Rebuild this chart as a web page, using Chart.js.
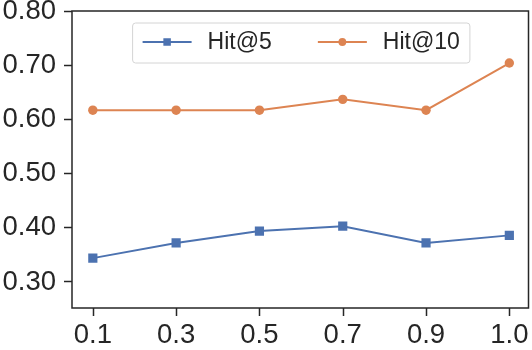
<!DOCTYPE html>
<html>
<head>
<meta charset="utf-8">
<script src="https://cdn.jsdelivr.net/npm/chart.js@4/dist/chart.umd.min.js"></script>
<style>
  html, body { margin: 0; padding: 0; background: #ffffff; overflow: hidden; }
  #wrap { width: 532px; height: 350px; overflow: hidden; }
  #c { display: block; }
</style>
</head>
<body>
<div id="wrap"><canvas id="c" width="535" height="350"></canvas></div>
<script>
const xLabels = ['0.1', '0.3', '0.5', '0.7', '0.9', '1.0'];
const hit5 = [0.344, 0.372, 0.394, 0.403, 0.372, 0.386];
const hit10 = [0.617, 0.617, 0.617, 0.637, 0.617, 0.704];
const yTicks = [0.30, 0.40, 0.50, 0.60, 0.70, 0.80];
const seriesNames = ['Hit@5', 'Hit@10'];

const BLUE = '#4C72B0';
const ORANGE = '#DD8452';
const INK = '#262626';
const FONT = '"Liberation Sans", Arial, sans-serif';

const toPoints = arr => arr.map((v, i) => ({ x: i, y: v }));

const framePlugin = {
  id: 'frameAndLegend',
  afterDraw(chart) {
    const ctx = chart.ctx;
    const ca = chart.chartArea;
    ctx.save();
    ctx.strokeStyle = INK;
    ctx.lineWidth = 1.5;
    ctx.strokeRect(ca.left, ca.top, ca.right - ca.left, ca.bottom - ca.top);

    // x tick marks (8px, outside)
    const xs = chart.scales.x;
    ctx.beginPath();
    xs.ticks.forEach(t => {
      const px = Math.round(xs.getPixelForValue(t.value)) + 0.5;
      ctx.moveTo(px, ca.bottom);
      ctx.lineTo(px, ca.bottom + 8);
    });
    ctx.stroke();

    ctx.font = '23px ' + FONT;
    const ds = chart.data.datasets;
    const lineLen = 49, gapLT = 16, gapItems = 46, pad = 10;
    const widths = ds.map(d => ctx.measureText(d.label).width);
    const contentW = ds.length * (lineLen + gapLT) + widths.reduce((a, b) => a + b, 0) + gapItems * (ds.length - 1);
    const frameW = contentW + 2 * pad;
    const frameH = 40;
    const fx = (ca.left + ca.right) / 2 + 1 - frameW / 2;
    const fy = ca.top + 12;
    const r = 3;
    ctx.beginPath();
    ctx.moveTo(fx + r, fy);
    ctx.lineTo(fx + frameW - r, fy);
    ctx.arcTo(fx + frameW, fy, fx + frameW, fy + r, r);
    ctx.lineTo(fx + frameW, fy + frameH - r);
    ctx.arcTo(fx + frameW, fy + frameH, fx + frameW - r, fy + frameH, r);
    ctx.lineTo(fx + r, fy + frameH);
    ctx.arcTo(fx, fy + frameH, fx, fy + frameH - r, r);
    ctx.lineTo(fx, fy + r);
    ctx.arcTo(fx, fy, fx + r, fy, r);
    ctx.closePath();
    ctx.fillStyle = 'rgba(255,255,255,0.8)';
    ctx.fill();
    ctx.strokeStyle = '#d4d4d4';
    ctx.lineWidth = 1;
    ctx.stroke();

    let x = fx + pad;
    const y = fy + 19;
    ds.forEach((d, i) => {
      ctx.strokeStyle = d.borderColor;
      ctx.lineWidth = 2;
      ctx.beginPath();
      ctx.moveTo(x, y);
      ctx.lineTo(x + lineLen, y);
      ctx.stroke();
      const mx = x + lineLen / 2;
      ctx.fillStyle = d.backgroundColor;
      if (d.pointStyle === 'rect') {
        ctx.fillRect(mx - 3.75, y - 3.75, 7.5, 7.5);
      } else {
        ctx.beginPath();
        ctx.arc(mx, y, 3.9, 0, Math.PI * 2);
        ctx.fill();
      }
      x += lineLen + gapLT;
      ctx.fillStyle = INK;
      ctx.textBaseline = 'middle';
      ctx.textAlign = 'left';
      ctx.fillText(d.label, x, y + 1);
      x += widths[i] + gapItems;
    });
    ctx.restore();
  }
};

new Chart(document.getElementById('c'), {
  type: 'line',
  data: {
    datasets: [
      {
        label: seriesNames[0],
        data: toPoints(hit5),
        borderColor: BLUE,
        backgroundColor: BLUE,
        borderWidth: 2,
        pointStyle: 'rect',
        pointRadius: 6.5,
        pointBorderWidth: 0,
        tension: 0
      },
      {
        label: seriesNames[1],
        data: toPoints(hit10),
        borderColor: ORANGE,
        backgroundColor: ORANGE,
        borderWidth: 2,
        pointStyle: 'circle',
        pointRadius: 4.7,
        pointBorderWidth: 0,
        tension: 0
      }
    ]
  },
  options: {
    responsive: false,
    animation: false,
    devicePixelRatio: 1,
    layout: { padding: { left: 0, right: 0, top: 11, bottom: 0 } },
    plugins: { legend: { display: false }, tooltip: { enabled: false } },
    scales: {
      x: {
        type: 'linear',
        min: -0.25,
        max: 5.23,
        afterBuildTicks(scale) { scale.ticks = xLabels.map((_, i) => ({ value: i })); },
        afterFit(scale) {
          scale.height = 42; scale.paddingLeft = 0; scale.paddingRight = 0;
          if (scale._margins) { scale._margins.left = 0; scale._margins.right = 0; }
        },
        ticks: {
          callback: v => xLabels[v],
          color: INK,
          font: { family: FONT, size: 27.5 },
          padding: 0,
          maxRotation: 0,
          autoSkip: false
        },
        grid: { drawOnChartArea: false, drawTicks: true, tickLength: 11, tickWidth: 0, tickColor: 'rgba(0,0,0,0)' },
        border: { display: false }
      },
      y: {
        type: 'linear',
        min: 0.252,
        max: 0.80,
        afterBuildTicks(scale) { scale.ticks = yTicks.map(v => ({ value: v })); },
        afterFit(scale) { scale.width = 72; scale.paddingTop = 0; scale.paddingBottom = 0; },
        ticks: {
          callback: v => v.toFixed(2),
          color: INK,
          font: { family: FONT, size: 27.5 },
          padding: 8
        },
        grid: { drawOnChartArea: false, drawTicks: true, tickLength: 8, tickWidth: 1.5, tickColor: INK },
        border: { display: false }
      }
    }
  },
  plugins: [framePlugin]
});
</script>
</body>
</html>
